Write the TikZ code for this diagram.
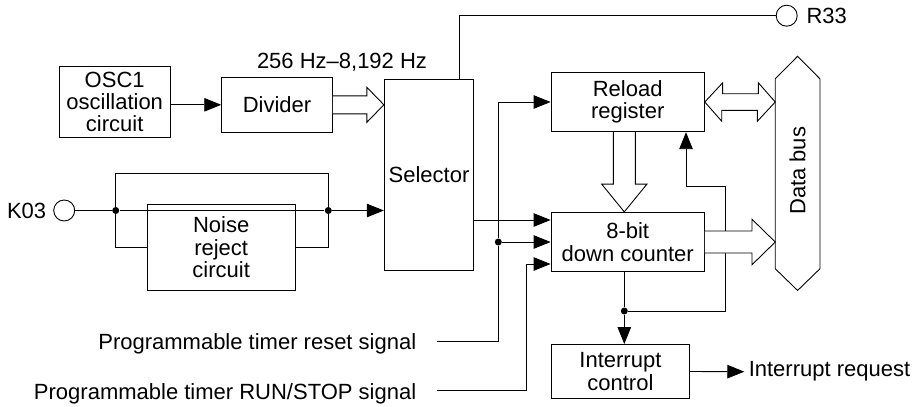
\documentclass[tikz,border=0pt]{standalone}
\usepackage{fontspec}
\setmainfont{Liberation Sans}
\usetikzlibrary{arrows.meta,calc}
\usetikzlibrary{positioning}
\tikzset{blk/.style={draw,align=center,inner sep=2pt},
  jdot/.style={circle,fill,inner sep=0pt,minimum size=7pt},
  port/.style={circle,draw,fill=white,inner sep=0pt,minimum size=21pt},
  lbl/.style={inner sep=0pt}}
% wide (bus) arrow: from, tip, shaft half width, head half width, head length
\newcommand{\widearrow}[5]{%
  \coordinate (wa-a) at #1; \coordinate (wa-b) at #2;
  \coordinate (wa-c) at ($(wa-b)!#5!(wa-a)$);
  \draw[fill=white] ($(wa-a)!#3!90:(wa-b)$) -- ($(wa-c)!#3!90:(wa-b)$) -- ($(wa-c)!#4!90:(wa-b)$) -- (wa-b)
    -- ($(wa-c)!#4!-90:(wa-b)$) -- ($(wa-c)!#3!-90:(wa-b)$) -- ($(wa-a)!#3!-90:(wa-b)$);}

\begin{document}
\begin{tikzpicture}[x=1pt,y=-1pt,>={Triangle[length=17pt,width=13.5pt]},line width=0.9pt,font=\fontsize{22pt}{22.4pt}\selectfont]
\useasboundingbox (0,0) rectangle (916,407);
% --- blocks
\node[blk,minimum width=110.7pt,minimum height=71.7pt] (osc) at (114.7,101.9) {OSC1\\oscillation\\circuit};
\node[blk,minimum width=110.6pt,minimum height=54.3pt] (div) at (277,104.8) {Divider};
\node[lbl] (frq) at (342,62.5) {256 Hz–8,192 Hz};
\node[blk,minimum width=89.4pt,minimum height=190.7pt] (sel) at (429,174.7) {Selector};
\node[blk,minimum width=153.3pt,minimum height=59.4pt] (rel) at (627.7,102) {Reload\\register};
\node[blk,minimum width=153.3pt,minimum height=59.4pt] (cnt) at (627.7,242) {8-bit\\down counter};
\node[blk,minimum width=137.8pt,minimum height=54pt] (int) at (620.4,371.5) {Interrupt\\control};
\node[blk,minimum width=147.7pt,minimum height=86.4pt] (nrc) at (221.2,247.5) {Noise\\reject\\circuit};
\node[minimum width=43.8pt,minimum height=189pt,inner sep=0pt] (bus) at (797.6,173.8) {};
\node[lbl,rotate=90] (bustxt) at ([yshift=3pt]bus) {Data bus};
% --- terminals and signal names
\node[port] (k03) at (64.2,210.5) {};
\node[lbl,left=6.6pt of k03] (k03t) {K03};
\node[port] (r33) at (786.7,15.7) {};
\node[lbl,right=8.5pt of r33] (r33t) {R33};
\node[lbl,anchor=east] (rst) at (416.7,344) {Programmable timer reset signal};
\node[lbl,anchor=east] (run) at (416.7,393.6) {Programmable timer RUN/STOP signal};
\node[lbl,anchor=west] (irq) at (748.3,371.7) {Interrupt request};
% --- junctions
\node[jdot] (j1) at (115.7,210.5) {};
\node[jdot] (j2) at (328.3,210.5) {};
\node[jdot] (j3) at (498.3,242) {};
\node[jdot] (j4) at (624.3,311) {};
\coordinate (cin1) at ([yshift=22pt]cnt.west);
\coordinate (cin3) at ([yshift=-22pt]cnt.west);
\coordinate (fbk) at (725,186);
% --- wires
\draw[->] (div.west -| osc.east) -- (div.west);
\draw ([xshift=30pt]sel.north) |- (r33.west);
\draw (k03) -- (j1) -- (j2);
\draw[->] (j2) -- (j2 -| sel.west);
\draw (j1) -- ++(0,-37.2) -| (j2);
\draw (j1) |- (nrc.west);
\draw (nrc.east) -| (j2);
\draw[->] (cin1 -| sel.east) -- (cin1);
\draw[->] ([xshift=20pt,yshift=3pt]rst.east) -| (j3) |- (rel.west);
\draw[->] (j3) -- (j3 -| cnt.west);
\draw[->] ([xshift=20pt,yshift=3pt]run.east) -| ([xshift=-24pt]cin3) -- (cin3);
\draw (cnt.south -| j4) -- (j4);
\draw[->] (j4) -- (j4 |- int.north);
\draw[->] (j4) -| (fbk) -| ([xshift=58.3pt]rel.south);
\draw[->] (int.east) -- ([xshift=-4pt]irq.west);
% --- data bus
\draw (bus.north west) -- ([yshift=22.6pt]bus.north) -- (bus.north east) -- (bus.south east)
  -- ([yshift=-21.7pt]bus.south) -- (bus.south west) -- cycle;
% --- wide arrows
\widearrow{(div.east)}{(div.east -| sel.west)}{9pt}{17.5pt}{17pt}
\widearrow{([xshift=-3.4pt]rel.south)}{([xshift=-3.4pt]cnt.north)}{11pt}{22.6pt}{27.7pt}
\widearrow{(cnt.east)}{(cnt.east -| bus.west)}{11pt}{22.8pt}{23.3pt}
\draw[fill=white] (rel.east) -- ++(17.85,-19.2) -- ++(0,10.9) -- ++(35.7,0) -- ++(0,-10.9) -- (rel.east -| bus.west)
  -- ++(-17.85,19.2) -- ++(0,-10.9) -- ++(-35.7,0) -- ++(0,10.9) -- cycle;
\end{tikzpicture}
\end{document}
